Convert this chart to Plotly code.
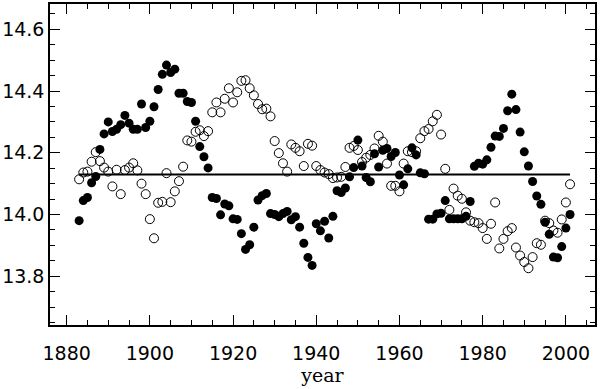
import plotly.graph_objects as go

years = list(range(1883, 2002))

# filled circles
filled = [
    13.980, 14.045, 14.055, 14.103, 14.123, 14.211, 14.261, 14.300, 14.269, 14.276,  # 1883-1892
    14.291, 14.321, 14.296, 14.276, 14.276, 14.358, 14.282, 14.302, 14.349, 14.405,  # 1893-1902
    14.454, 14.484, 14.460, 14.471, 14.393, 14.393, 14.366, 14.363, 14.302, 14.220,  # 1903-1912
    14.187, 14.151, 14.055, 14.052, 13.999, 14.034, 14.028, 13.986, 13.984, 13.938,  # 1913-1922
    13.887, 13.902, 13.959, 14.047, 14.061, 14.068, 14.003, 14.000, 13.993, 14.003,  # 1923-1932
    14.010, 13.983, 13.993, 13.959, 13.907, 13.861, 13.835, 13.970, 13.947, 13.978,  # 1933-1942
    13.924, 13.994, 14.077, 14.071, 14.086, 14.122, 14.152, 14.241, 14.157, 14.120,  # 1943-1952
    14.106, 14.197, 14.154, 14.208, 14.214, 14.188, 14.201, 14.128, 14.096, 14.148,  # 1953-1962
    14.216, 14.193, 14.135, 14.132, 13.985, 13.985, 14.002, 14.004, 14.045, 13.986,  # 1963-1972
    13.986, 13.986, 13.986, 13.994, 14.042, 14.156, 14.166, 14.163, 14.177, 14.218,  # 1973-1982
    14.254, 14.253, 14.279, 14.336, 14.390, 14.340, 14.267, 14.203, 14.157, 14.107,  # 1983-1992
    14.060, 14.033, 13.975, 13.936, 13.862, 13.860, 13.896, 13.956, 14.000,          # 1993-2001
]

# open circles
open_ = [
    14.114, 14.136, 14.139, 14.171, 14.202, 14.173, 14.152, 14.139, 14.091, 14.145,  # 1883-1892
    14.066, 14.144, 14.152, 14.166, 14.143, 14.100, 14.066, 13.985, 13.923, 14.038,  # 1893-1902
    14.041, 14.134, 14.040, 14.075, 14.108, 14.155, 14.240, 14.236, 14.268, 14.273,  # 1903-1912
    14.254, 14.270, 14.331, 14.363, 14.331, 14.375, 14.409, 14.363, 14.396, 14.433,  # 1913-1922
    14.435, 14.409, 14.386, 14.358, 14.341, 14.343, 14.318, 14.238, 14.199, 14.166,  # 1923-1932
    14.139, 14.227, 14.216, 14.205, 14.157, 14.229, 14.223, 14.157, 14.144, 14.136,  # 1933-1942
    14.131, 14.118, 14.120, 14.122, 14.154, 14.216, 14.222, 14.209, 14.170, 14.184,  # 1943-1952
    14.193, 14.214, 14.255, 14.236, 14.165, 14.093, 14.093, 14.075, 14.165, 14.205,  # 1953-1962
    14.202, 14.205, 14.247, 14.270, 14.277, 14.302, 14.323, 14.259, 14.148, 14.015,  # 1963-1972
    14.084, 14.061, 14.051, 14.007, 13.980, 13.975, 13.972, 13.956, 13.921, 13.970,  # 1973-1982
    14.039, 13.890, 13.921, 13.946, 13.956, 13.893, 13.867, 13.846, 13.826, 13.862,  # 1983-1992
    13.907, 13.902, 13.980, 13.972, 13.948, 13.941, 13.984, 14.039, 14.098,          # 1993-2001
]

baseline = 14.13

x_ticks = [1880, 1900, 1920, 1940, 1960, 1980, 2000]
y_ticks = [13.8, 14.0, 14.2, 14.4, 14.6]

fig = go.Figure()

# mean level
fig.add_trace(go.Scatter(
    x=[years[0], years[-1]],
    y=[baseline, baseline],
    mode='lines',
    line=dict(color='black', width=2),
    hoverinfo='skip',
))

fig.add_trace(go.Scatter(
    x=years, y=filled,
    mode='markers',
    marker=dict(symbol='circle', size=9, color='black'),
))

fig.add_trace(go.Scatter(
    x=years, y=open_,
    mode='markers',
    marker=dict(symbol='circle-open', size=9, color='black', line=dict(width=1)),
))

axis_common = dict(
    showline=True, linecolor='black', linewidth=1.5, mirror='allticks',
    ticks='inside', ticklen=10, tickwidth=1, tickcolor='black',
    showgrid=False, zeroline=False,
    tickfont=dict(family='DejaVu Sans', size=19, color='black'),
)

fig.update_layout(
    width=600, height=389,
    margin=dict(l=49, r=5, t=2, b=64),
    paper_bgcolor='white', plot_bgcolor='white',
    showlegend=False,
    xaxis=dict(
        range=[1876, 2007], tickvals=x_ticks, ticklabelstandoff=10,
        minor=dict(dtick=5, tick0=1880, ticks='inside', ticklen=5, tickcolor='black'),
        title=dict(text='year', font=dict(family='DejaVu Serif', size=19, color='black'), standoff=2),
        **axis_common,
    ),
    yaxis=dict(
        range=[13.642, 14.682], tickvals=y_ticks, tickformat='.1f',
        minor=dict(dtick=0.05, tick0=13.8, ticks='inside', ticklen=5, tickcolor='black'),
        **axis_common,
    ),
)

# page body margin would shift the fixed-size figure
fig.write_html("out.html", config={'displayModeBar': False},
               post_script="document.body.style.margin='0';")
